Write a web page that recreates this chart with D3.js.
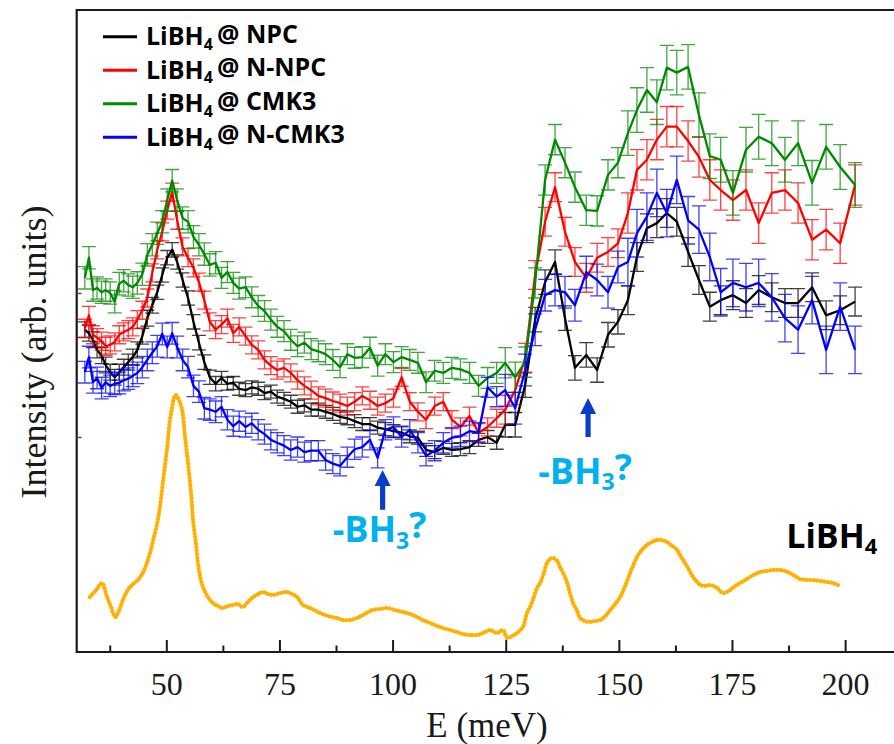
<!DOCTYPE html>
<html>
<head>
<meta charset="utf-8">
<script src="https://cdn.jsdelivr.net/npm/d3@7"></script>
<style>
  html, body { margin: 0; background: #fff; }
  svg { display: block; }
</style>
</head>
<body>
<svg id="chart" width="894" height="744"></svg>
<script>
// Energy transfer grid (meV) shared by the four confined samples
const energy = [32, 32.9, 33.8, 34.7, 35.7, 36.6, 37.6, 38.6, 39.6, 40.6, 41.6, 42.6, 43.6, 44.7, 45.8, 46.9, 48.0, 49.1, 50.2, 51.3,
  52.4, 53.6, 54.8, 56.0, 57.2, 58.4, 59.6, 60.9, 62.2, 63.5, 64.8, 66.1, 67.5, 68.9, 70.3, 71.7, 73.1, 74.5, 76.0, 77.5,
  79.0, 80.5, 82.0, 83.6, 85.2, 86.8, 88.4, 90.0, 91.6, 93.3, 95.0, 96.7, 98.4, 100.2, 102.0, 103.8, 105.6, 107.4, 109.3, 111.2,
  113.1, 115.0, 117.0, 119.0, 121.0, 123.0,
  124.9, 127.1, 129.3, 131.5, 133.7, 135.9, 138.1, 140.3, 142.8, 145.2, 147.6, 149.8, 152.0, 154.0, 156.2, 158.4, 160.6, 162.8,
  165.3, 167.7, 170.1, 172.5, 175.2, 178.1, 180.9, 183.8, 186.7, 189.6, 192.7, 195.8, 198.9, 202.2];

// Intensities (arb. units)
const npc = [44.9, 44.4, 43.5, 42.1, 41.3, 40.0, 39.0, 38.3, 39.0, 39.7, 40.4, 41.1, 42.1, 44.0, 46.5, 48.3, 50.1, 52.5, 54.9, 56.0,
  54.3, 51.8, 49.3, 46.0, 43.1, 40.4, 38.3, 37.4, 38.2, 37.4, 37.5, 36.7, 36.5, 36.9, 36.7, 36.1, 36.3, 35.6, 35.3, 34.9,
  34.2, 34.4, 33.8, 33.8, 33.5, 33.2, 32.8, 32.6, 32.2, 31.8, 31.8, 31.3, 31.1, 30.8, 30.6, 30.1, 29.9, 28.2, 27.9, 28.5,
  28.2, 28.3, 28.6, 29.6, 30.0, 29.2,
  31.7, 31.7, 37.2, 46.3, 51.5, 54.3, 46.5, 39.6, 41.4, 39.3, 44.2, 46.0, 49.0, 55.0, 59.0, 59.7, 61.1, 59.9,
  55.7, 51.8, 48.1, 49.0, 49.7, 48.6, 50.4, 49.4, 48.6, 48.6, 50.8, 46.9, 47.6, 48.8];

const nNpc = [45.1, 46.9, 44.2, 43.8, 43.3, 42.6, 42.8, 43.2, 44.2, 44.6, 44.9, 45.3, 46.3, 47.6, 49.3, 52.8, 56.0, 58.5, 61.5, 64.0,
  60.1, 56.4, 54.9, 53.5, 51.5, 49.0, 46.0, 44.9, 45.6, 46.5, 44.4, 45.3, 44.0, 42.8, 42.1, 40.7, 39.9, 39.3, 39.6, 38.9,
  37.9, 37.1, 36.5, 35.7, 35.4, 35.0, 34.7, 34.3, 34.9, 35.7, 35.1, 34.3, 34.7, 35.4, 38.3, 34.9, 33.5, 32.4, 34.3, 34.9,
  32.4, 31.4, 32.9, 30.6, 31.4, 32.6,
  33.8, 36.5, 41.0, 52.5, 59.9, 64.7, 58.5, 54.3, 52.1, 54.9, 55.7, 56.9, 61.1, 67.1, 68.5, 71.3, 73.1, 73.1,
  71.1, 68.9, 65.7, 64.3, 62.9, 64.3, 59.7, 63.9, 64.3, 62.5, 57.4, 58.8, 56.9, 65.0];

const cmk3 = [52.1, 54.9, 50.4, 50.7, 50.1, 50.4, 50.0, 48.8, 51.3, 51.7, 51.1, 50.8, 51.4, 52.6, 55.3, 56.7, 58.3, 59.9, 62.9, 65.6,
  62.9, 60.4, 59.9, 57.8, 56.7, 55.4, 53.9, 54.2, 52.1, 52.9, 51.4, 50.6, 50.8, 49.4, 48.2, 47.5, 46.3, 45.3, 44.7, 43.5,
  42.6, 43.1, 42.2, 41.9, 41.5, 40.7, 39.7, 41.5, 41.0, 41.1, 42.4, 39.9, 41.5, 40.4, 41.1, 40.7, 40.3, 37.6, 39.2, 38.9,
  39.6, 39.4, 38.9, 37.1, 38.2, 38.9,
  40.3, 38.3, 40.4, 51.4, 65.7, 71.3, 68.1, 64.7, 61.5, 61.4, 66.4, 68.1, 72.2, 75.4, 78.2, 76.5, 81.3, 80.6,
  81.4, 74.7, 69.0, 68.5, 63.9, 69.9, 71.7, 70.8, 68.5, 70.8, 65.3, 70.3, 67.5, 65.0];

const nCmk3 = [39.0, 41.1, 37.6, 38.2, 36.8, 37.6, 37.1, 37.4, 37.5, 37.9, 38.1, 38.5, 38.9, 39.7, 40.7, 41.7, 42.6, 44.3, 42.5, 44.4,
  42.5, 40.7, 39.7, 37.1, 36.3, 34.0, 33.8, 33.5, 34.2, 32.4, 31.5, 32.2, 31.4, 31.9, 31.0, 30.4, 29.6, 29.2, 28.8, 28.2,
  28.6, 27.9, 28.1, 28.1, 26.8, 26.3, 26.0, 27.2, 28.3, 28.6, 29.6, 27.1, 31.0, 31.4, 30.0, 31.0, 29.2, 27.4, 28.1, 29.2,
  29.9, 30.1, 30.8, 30.6, 36.9, 35.6,
  36.5, 34.0, 39.3, 44.9, 49.7, 50.4, 50.1, 48.3, 52.9, 51.8, 50.1, 53.6, 54.3, 58.3, 60.6, 63.9, 61.1, 65.7,
  60.1, 58.8, 55.0, 50.1, 51.4, 50.8, 51.4, 49.4, 46.5, 44.9, 49.0, 42.1, 48.1, 42.1];

// Error bar half-heights by energy band: [upper energy, error]
const errNpc   = [[47, 1.1], [62, 1.0], [124, 0.9], [150, 1.7], [999, 2.0]];
const errNNpc  = [[62, 1.25], [124, 1.25], [150, 2.0], [999, 2.8]];
const errCmk3  = [[62, 1.55], [124, 1.45], [150, 2.1], [999, 3.1]];
const errNCmk3 = [[62, 1.5], [124, 1.4], [150, 2.2], [999, 3.3]];

// Bulk LiBH4 reference spectrum
const bulkE = [33.1, 34.5, 35.8, 36.9, 37.8, 38.7, 39.6, 40.4, 41.5, 42.4, 43.7, 44.9, 45.7, 46.4, 47.1, 47.9, 48.6, 49.3, 50.2, 50.8,
  51.3, 51.7, 52.1, 52.8, 53.5, 54.1, 54.8, 55.5, 55.9, 56.6, 57.0, 57.5, 58.1, 59.2, 60.3, 61.4, 62.5, 63.6, 64.7, 65.8,
  66.9, 68.0, 69.2, 70.3, 71.4, 72.5, 73.6, 75.1, 76.7, 77.8, 78.9, 80.2, 81.8, 84.0, 85.7, 87.7, 89.1, 90.6, 92.1, 93.5,
  94.6, 95.5, 97.2, 98.8, 100.5, 102.3, 103.9, 105.4, 106.7, 108.3, 109.8, 111.2, 112.7, 114.2, 115.6, 117.1, 118.7, 120.0, 121.5, 123.1,
  124.4, 125.3, 126.4, 127.5, 128.8, 129.7, 130.4, 131.0, 131.9, 132.6, 133.5, 134.1, 134.8, 135.5, 136.4, 137.0, 137.9, 138.6, 139.2, 139.9,
  140.8, 141.4, 142.5, 143.6, 144.7, 145.9, 147.0, 148.1, 149.2, 150.3, 151.4, 152.5, 153.4, 154.0, 155.1, 156.2, 157.3, 158.4, 159.5, 160.6,
  161.8, 162.9, 163.5, 164.2, 165.3, 166.4, 167.3, 168.0, 169.1, 170.2, 171.7, 173.0, 174.6, 175.7, 176.8, 178.3, 179.7, 181.2, 182.8, 184.1,
  185.6, 186.7, 187.8, 188.9, 190.0, 191.6, 192.9, 194.5, 196.0, 197.3, 198.4];
const bulkI = [7.78, 8.75, 9.72, 7.78, 6.39, 5.0, 5.97, 7.36, 8.75, 9.44, 10.14, 11.25, 12.5, 13.89, 15.69, 17.78, 20.28, 24.03, 28.61, 32.36,
  34.17, 35.42, 35.83, 35.14, 33.75, 30.28, 26.39, 21.94, 18.47, 15.0, 12.5, 10.56, 9.17, 7.78, 6.94, 6.53, 6.25, 6.53, 6.67, 6.81,
  6.39, 7.08, 7.78, 8.19, 8.47, 8.19, 8.06, 8.33, 8.47, 8.19, 7.78, 6.67, 6.25, 5.56, 5.14, 4.86, 4.58, 4.58, 4.86, 5.28,
  5.69, 5.97, 6.11, 6.25, 5.97, 5.69, 5.42, 5.0, 4.58, 4.17, 3.75, 3.47, 3.19, 2.92, 2.64, 2.5, 2.5, 2.78, 3.19, 2.78,
  3.19, 2.08, 2.36, 2.78, 3.61, 5.56, 6.39, 7.36, 9.03, 9.72, 11.25, 12.5, 13.06, 13.19, 12.78, 11.94, 10.83, 9.72, 8.33, 6.94,
  5.83, 4.86, 4.44, 4.31, 4.44, 4.58, 5.14, 5.97, 6.81, 7.78, 9.31, 11.11, 12.5, 13.33, 14.31, 15.0, 15.42, 15.69, 15.69, 15.42,
  14.86, 14.31, 13.61, 12.92, 11.81, 10.56, 9.86, 9.44, 9.31, 9.44, 9.03, 8.33, 8.75, 9.31, 9.72, 10.28, 10.83, 11.25, 11.39, 11.53,
  11.53, 11.39, 11.11, 10.69, 10.28, 10.14, 10.14, 10.0, 9.86, 9.72, 9.44];

// Axis ticks
const xMajor = [50, 75, 100, 125, 150, 175, 200];
const xMinor = [37.5, 62.5, 87.5, 112.5, 137.5, 162.5, 187.5];
const yTicks = [30, 50];

// Series legend names
const sampleNames = ["NPC", "N-NPC", "CMK3", "N-CMK3"];

// Possible -BH3 features: energy, arrow tip/tail and label baseline (intensity units)
const bh3Marks = [
  { e: 97.8, tip: 25.4, tail: 19.9, label: 15.4 },
  { e: 143.2, tip: 35.4, tail: 30.0, label: 23.5 }
];

// ---------------------------------------------------------------
const svg = d3.select("#chart");
const plot = { left: 76.7, right: 894, top: 10, bottom: 652 };

const x = d3.scaleLinear().domain([30.2, 210.8]).range([plot.left, plot.right]);
const y = d3.scaleLinear().domain([0.14, 89.3]).range([plot.bottom, plot.top]);

const serif = "'Liberation Serif', 'Times New Roman', serif";
const sans = "'Open Sans', 'Noto Sans', sans-serif";

const series = [
  { name: sampleNames[0], color: "#000000", values: npc, err: errNpc },
  { name: sampleNames[1], color: "#ff0000", values: nNpc, err: errNNpc },
  { name: sampleNames[2], color: "#008a00", values: cmk3, err: errCmk3 },
  { name: sampleNames[3], color: "#0000ff", values: nCmk3, err: errNCmk3 }
];

const errAt = (bands, e) => bands.find(b => e <= b[0])[1];

// Bulk LiBH4 reference as a dotted trace
const bulk = bulkE.map((e, i) => ({ e, v: bulkI[i] }));
svg.append("path")
  .datum(bulk)
  .attr("fill", "none")
  .attr("stroke", "#ffb000")
  .attr("stroke-width", 4.2)
  .attr("stroke-linecap", "round")
  .attr("stroke-dasharray", "0.1 3.4")
  .attr("d", d3.line().x(d => x(d.e)).y(d => y(d.v)).curve(d3.curveCatmullRom.alpha(0.5)));

// Confined samples with error bars
const cap = 7;
series.forEach(s => {
  const pts = energy.map((e, i) => ({ e, v: s.values[i], err: errAt(s.err, e) }));
  const g = svg.append("g");
  const eb = g.append("g")
    .attr("stroke", s.color)
    .attr("stroke-width", 1.3)
    .attr("stroke-opacity", 0.75);
  eb.selectAll("path")
    .data(pts)
    .join("path")
    .attr("fill", "none")
    .attr("d", d => {
      const cx = x(d.e), y1 = y(d.v + d.err), y2 = y(d.v - d.err);
      return `M${cx},${y1}V${y2}M${cx - cap},${y1}H${cx + cap}M${cx - cap},${y2}H${cx + cap}`;
    });
  g.append("path")
    .datum(pts)
    .attr("fill", "none")
    .attr("stroke", s.color)
    .attr("stroke-width", 2.3)
    .attr("stroke-linejoin", "round")
    .attr("d", d3.line().x(d => x(d.e)).y(d => y(d.v)));
});

// Frame and axes
const axisColor = "#1a1a1a";
svg.append("path")
  .attr("fill", "none")
  .attr("stroke", axisColor)
  .attr("stroke-width", 2.2)
  .attr("d", `M${plot.right + 4},${plot.top}H${plot.left}V${plot.bottom}H${plot.right + 4}`);

const xAxis = svg.append("g")
  .attr("transform", `translate(0,${plot.bottom})`)
  .call(d3.axisBottom(x).tickValues(xMajor).tickSize(-12).tickPadding(20).tickFormat(d3.format("d")));
xAxis.select(".domain").remove();
xAxis.selectAll(".tick line").attr("stroke", axisColor).attr("stroke-width", 2);
xAxis.selectAll(".tick text")
  .attr("fill", axisColor)
  .style("font-family", serif)
  .style("font-size", "32px");

const xAxisMinor = svg.append("g")
  .attr("transform", `translate(0,${plot.bottom})`)
  .call(d3.axisBottom(x).tickValues(xMinor).tickSize(-6.5).tickFormat(""));
xAxisMinor.select(".domain").remove();
xAxisMinor.selectAll(".tick line").attr("stroke", axisColor).attr("stroke-width", 2);

const yAxis = svg.append("g")
  .attr("transform", `translate(${plot.left},0)`)
  .call(d3.axisLeft(y).tickValues(yTicks).tickSize(-5).tickFormat(""));
yAxis.select(".domain").remove();
yAxis.selectAll(".tick line").attr("stroke", "#555").attr("stroke-width", 1.5);

svg.append("text")
  .attr("x", 487).attr("y", 737)
  .attr("text-anchor", "middle")
  .attr("fill", axisColor)
  .style("font-family", serif)
  .style("font-size", "35px")
  .text("E (meV)");

svg.append("text")
  .attr("transform", "translate(46,352) rotate(-90)")
  .attr("text-anchor", "middle")
  .attr("fill", axisColor)
  .style("font-family", serif)
  .style("font-size", "36px")
  .text("Intensity (arb. units)");

// Legend
const legend = svg.append("g").attr("transform", "translate(103,0)");
series.forEach((s, i) => {
  const ly = 36.7 + i * 33.5;
  legend.append("line")
    .attr("x1", 0).attr("x2", 34).attr("y1", ly).attr("y2", ly)
    .attr("stroke", s.color).attr("stroke-width", 3);
  const t = legend.append("text")
    .attr("x", 43).attr("y", ly + 8.5)
    .attr("fill", "#000")
    .style("font-family", sans)
    .style("font-weight", 700)
    .style("font-size", "25px");
  t.append("tspan").text("LiBH");
  t.append("tspan").attr("dy", "0.28em").style("font-size", "16px").text("4");
  t.append("tspan").attr("dy", "-0.28em").text("\u2009@ " + s.name);
});

// -BH3 annotations
bh3Marks.forEach(m => {
  const ax = x(m.e), yt = y(m.tip), yb = y(m.tail);
  const head = 16, hw = 8, sw = 2.6;
  svg.append("path")
    .attr("fill", "#0a3ccc")
    .attr("d", `M${ax},${yt}L${ax + hw},${yt + head}L${ax + sw},${yt + head}L${ax + sw},${yb}` +
               `L${ax - sw},${yb}L${ax - sw},${yt + head}L${ax - hw},${yt + head}Z`);
  const t = svg.append("text")
    .attr("x", ax - 3).attr("y", y(m.label))
    .attr("text-anchor", "middle")
    .attr("fill", "#00b0f0")
    .style("font-family", sans)
    .style("font-weight", 700)
    .style("font-size", "36px");
  t.append("tspan").text("-BH");
  t.append("tspan").attr("dy", "0.28em").style("font-size", "23px").text("3");
  t.append("tspan").attr("dy", "-0.28em").text("?");
});

// Bulk label
const bl = svg.append("text")
  .attr("x", x(187.0)).attr("y", y(14.6))
  .attr("fill", "#000")
  .style("font-family", sans)
  .style("font-weight", 700)
  .style("font-size", "34px");
bl.append("tspan").text("LiBH");
bl.append("tspan").attr("dy", "0.28em").style("font-size", "22px").text("4");
</script>
</body>
</html>
